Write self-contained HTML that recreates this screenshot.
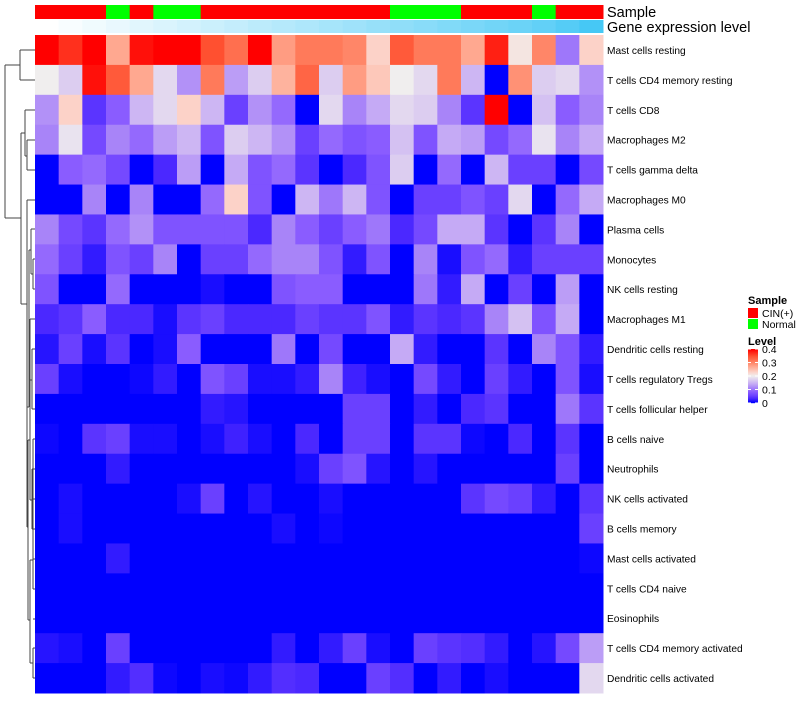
<!DOCTYPE html>
<html><head><meta charset="utf-8">
<style>
html,body{margin:0;padding:0;background:#fff;}
body{width:800px;height:700px;overflow:hidden;font-family:"Liberation Sans",Arial,sans-serif;}
svg text{font-family:"Liberation Sans",Arial,sans-serif;}
</style></head>
<body>
<svg id="chart" width="800" height="700" xmlns="http://www.w3.org/2000/svg">
<g id="dendro" stroke="#444" stroke-width="1" fill="none"></g>
<g id="cells"></g>
<g id="anno"></g>
<g id="labels"></g>
<g id="legend"></g>
</svg>
<script>
const rowNames = ["Mast cells resting","T cells CD4 memory resting","T cells CD8","Macrophages M2","T cells gamma delta","Macrophages M0","Plasma cells","Monocytes","NK cells resting","Macrophages M1","Dendritic cells resting","T cells regulatory  Tregs","T cells follicular helper","B cells naive","Neutrophils","NK cells activated","B cells memory","Mast cells activated","T cells CD4 naive","Eosinophils","T cells CD4 memory activated","Dendritic cells activated"];
const sampleGroups = ["C","C","C","N","C","N","N","C","C","C","C","C","C","C","C","N","N","N","C","C","C","N","C","C"];
const geneLevels = [0,0.04,0.08,0.12,0.16,0.2,0.24,0.28,0.32,0.36,0.4,0.44,0.48,0.52,0.56,0.6,0.64,0.68,0.72,0.76,0.8,0.85,0.92,1];
const levelTicks = [0,0.1,0.2,0.3,0.4];
const values = [
[0.4,0.37,0.4,0.27,0.39,0.4,0.4,0.35,0.32,0.4,0.28,0.31,0.31,0.3,0.23,0.34,0.31,0.31,0.27,0.38,0.21,0.3,0.1,0.23],
[0.2,0.17,0.39,0.34,0.27,0.18,0.12,0.31,0.13,0.17,0.26,0.33,0.17,0.28,0.24,0.2,0.18,0.31,0.15,0,0.29,0.17,0.18,0.12],
[0.12,0.23,0.04,0.08,0.15,0.18,0.23,0.15,0.05,0.12,0.09,0,0.18,0.11,0.14,0.18,0.17,0.11,0.04,0.4,0,0.16,0.08,0.11],
[0.11,0.19,0.06,0.11,0.09,0.13,0.15,0.07,0.17,0.15,0.12,0.05,0.09,0.07,0.08,0.16,0.07,0.14,0.13,0.06,0.09,0.19,0.11,0.14],
[0,0.08,0.09,0.06,0,0.03,0.13,0,0.14,0.07,0.09,0.04,0,0.03,0.07,0.17,0,0.09,0,0.15,0.05,0.05,0,0.06],
[0,0,0.11,0,0.11,0,0,0.09,0.23,0.07,0,0.15,0.1,0.15,0.07,0,0.05,0.05,0.07,0.05,0.18,0,0.09,0.14],
[0.11,0.06,0.04,0.09,0.12,0.07,0.07,0.07,0.07,0.03,0.11,0.08,0.05,0.08,0.1,0.03,0.06,0.14,0.14,0.04,0,0.04,0.11,0],
[0.09,0.05,0.02,0.07,0.05,0.11,0,0.05,0.05,0.09,0.11,0.11,0.07,0.02,0.07,0,0.11,0.01,0.07,0.09,0.02,0.05,0.05,0.05],
[0.07,0,0,0.09,0,0,0,0.01,0,0,0.07,0.08,0.08,0,0,0,0.1,0.02,0.14,0,0.05,0,0.13,0],
[0.03,0.04,0.08,0.03,0.03,0.01,0.04,0.05,0.03,0.03,0.03,0.05,0.04,0.04,0.07,0.02,0.04,0.03,0.04,0.11,0.16,0.07,0.14,0],
[0.015,0.05,0.01,0.04,0,0.01,0.08,0,0,0,0.1,0,0.06,0,0,0.14,0.02,0,0,0.04,0,0.11,0.07,0.02],
[0.05,0.01,0,0,0.005,0.02,0,0.07,0.05,0.01,0.01,0.02,0.11,0.025,0.01,0,0.06,0.02,0,0.05,0.02,0,0.07,0.01],
[0,0,0,0,0,0,0,0.02,0.015,0,0,0,0,0.05,0.05,0,0.02,0,0.03,0.04,0,0,0.1,0.04],
[0.005,0,0.04,0.05,0.01,0.01,0,0.01,0.025,0.01,0,0.03,0,0.05,0.05,0,0.04,0.04,0.005,0,0.03,0,0.04,0],
[0,0,0,0.02,0,0,0,0,0,0,0,0.01,0.05,0.07,0.015,0,0.015,0,0,0,0,0,0.05,0],
[0,0.01,0,0,0,0,0.01,0.05,0,0.015,0,0,0.01,0,0,0,0,0,0.04,0.06,0.05,0.02,0,0.04],
[0,0.01,0,0,0,0,0,0,0,0,0.01,0,0.005,0,0,0,0,0,0,0,0,0,0,0.05],
[0,0,0,0.02,0,0,0,0,0,0,0,0,0,0,0,0,0,0,0,0,0,0,0,0.005],
[0,0,0,0,0,0,0,0,0,0,0,0,0,0,0,0,0,0,0,0,0,0,0,0],
[0,0,0,0,0,0,0,0,0,0,0,0,0,0,0,0,0,0,0,0,0,0,0,0],
[0.015,0.01,0,0.05,0,0,0,0,0,0,0.02,0,0.02,0.05,0.01,0,0.05,0.04,0.035,0.02,0,0.015,0.06,0.13],
[0,0,0,0.02,0.035,0.005,0,0.01,0.005,0.02,0.035,0.03,0,0,0.05,0.035,0,0.02,0,0.01,0,0,0,0.18]
];
const NS="http://www.w3.org/2000/svg";
const X0=35,X1=603,Y0=35,Y1=693;
const nCol=values[0].length,nRow=values.length;
const cw=(X1-X0)/nCol,rh=(Y1-Y0)/nRow;
function xPos(j){return X0+j*cw;}
function yPos(i){return Y0+i*rh;}
const stops=[[0,0,0,255],[0.03,75,40,255],[0.05,106,64,255],[0.08,138,92,255],[0.11,168,132,248],[0.14,197,170,245],[0.17,220,205,240],[0.2,240,238,238],[0.23,252,210,200],[0.27,255,168,144],[0.31,255,122,90],[0.35,255,80,48],[0.4,255,0,0]];
function colorFor(v){
  v=Math.max(0,Math.min(0.4,v));
  for(let k=1;k<stops.length;k++){
    if(v<=stops[k][0]){const a=stops[k-1],b=stops[k];const t=(v-a[0])/(b[0]-a[0]);
      return `rgb(${Math.round(a[1]+t*(b[1]-a[1]))},${Math.round(a[2]+t*(b[2]-a[2]))},${Math.round(a[3]+t*(b[3]-a[3]))})`;}
  }
  return "rgb(255,0,0)";
}
function mk(tag,attrs,parent){const e=document.createElementNS(NS,tag);for(const k in attrs)e.setAttribute(k,attrs[k]);parent.appendChild(e);return e;}
const cells=document.getElementById('cells');
for(let i=0;i<nRow;i++){for(let j=0;j<nCol;j++){
  const r=mk('rect',{x:xPos(j).toFixed(2),y:yPos(i).toFixed(2),width:(cw+0.5).toFixed(2),height:(rh+0.5).toFixed(2),fill:colorFor(values[i][j])},cells);
  
  
}}
const anno=document.getElementById('anno');
for(let j=0;j<nCol;j++){
  const r=mk('rect',{x:xPos(j).toFixed(2),y:5,width:(cw+0.5).toFixed(2),height:14,fill:sampleGroups[j]==="C"?"#ff0000":"#00ff00"},anno);
  
  
  const g=geneLevels[j];
  const r2=mk('rect',{x:xPos(j).toFixed(2),y:20,width:(cw+0.5).toFixed(2),height:13,fill:`rgb(${Math.round(255-g*185)},${Math.round(255-g*55)},${Math.round(255-g*10)})`},anno);
  
  
}
const t1=mk('text',{x:607,y:17,'font-size':14.5,fill:'#000'},anno);t1.textContent="Sample";


const t2=mk('text',{x:607,y:32,'font-size':14.5,fill:'#000'},anno);t2.textContent="Gene expression level";


const labels=document.getElementById('labels');
for(let i=0;i<nRow;i++){
  const t=mk('text',{x:607,y:(yPos(i)+rh/2+4).toFixed(1),'font-size':10.2,fill:'#000'},labels);
  t.textContent=rowNames[i];
  
  
}
const lg=document.getElementById('legend');
const lt=mk('text',{x:748,y:304,'font-size':11,'font-weight':'bold'},lg);lt.textContent="Sample";


[["#ff0000","CIN(+)"],["#00ff00","Normal"]].forEach((d,k)=>{
  const r=mk('rect',{x:748,y:308+k*11,width:10,height:10,fill:d[0]},lg);
  
  
  const t=mk('text',{x:762,y:317+k*11,'font-size':10.5},lg);t.textContent=d[1];
  
  
});
const lt2=mk('text',{x:748,y:345,'font-size':11,'font-weight':'bold'},lg);lt2.textContent="Level";


const cbTop=349,cbBot=403;
for(let p=0;p<54;p++){
  const v=0.4*(1-p/53);
  const r=mk('rect',{x:748,y:cbTop+p,width:10,height:1.2,fill:colorFor(v)},lg);
  
  
}
levelTicks.forEach(v=>{
  const y=cbBot-(v/0.4)*(cbBot-cbTop);
  mk('line',{x1:748,x2:751,y1:y,y2:y,stroke:'#fff','stroke-width':1},lg);
  mk('line',{x1:755,x2:758,y1:y,y2:y,stroke:'#fff','stroke-width':1},lg);
  const t=mk('text',{x:762,y:(y+4).toFixed(1),'font-size':10.5},lg);t.textContent=String(v);
  
  
});
const d=document.getElementById('dendro');
const segs=[
[5,65,5,218],[5,65,20,65],[20,50,20,80],[20,50,35,50],[20,80,35,80],
[5,218,21,218],[21,133,21,304],[21,133,25,133],[25,110,25,156],[25,110,35,110],[25,156,27,156],[27,140,27,170],[27,140,35,140],[27,170,35,170],
[21,304,27,304],[27,200,27,407],[27,200,35,200],[27,407,29,407],
[29,250,29,407],[29,250,31,250],[31,229,31,274],[31,229,35,229],[31,274,33,274],[33,259,33,289],[33,259,35,259],[33,289,35,289],
[29,350,30,350],[30,319,30,380],[30,319,35,319],[30,380,32,380],[32,349,32,409],[32,349,35,349],[32,409,35,409],
[27,407,27,527],[27,527,28,527],[28,440,28,620],[28,440,30,440],[30,379,30,500],[30,500,32,500],[32,469,32,529],[32,469,35,469],[32,529,35,529],
[28,620,30,620],[30,560,30,663],[30,560,33,560],[33,439,33,589],[33,589,35,589],[33,559,35,559],[33,439,35,439],[33,499,35,499],[33,619,35,619],
[30,663,33,663],[33,648,33,678],[33,648,35,648],[33,678,35,678]
];
segs.forEach(s=>{
  const l=mk('line',{x1:s[0],y1:s[1],x2:s[2],y2:s[3]},d);
  
  
});
</script>
</body></html>
